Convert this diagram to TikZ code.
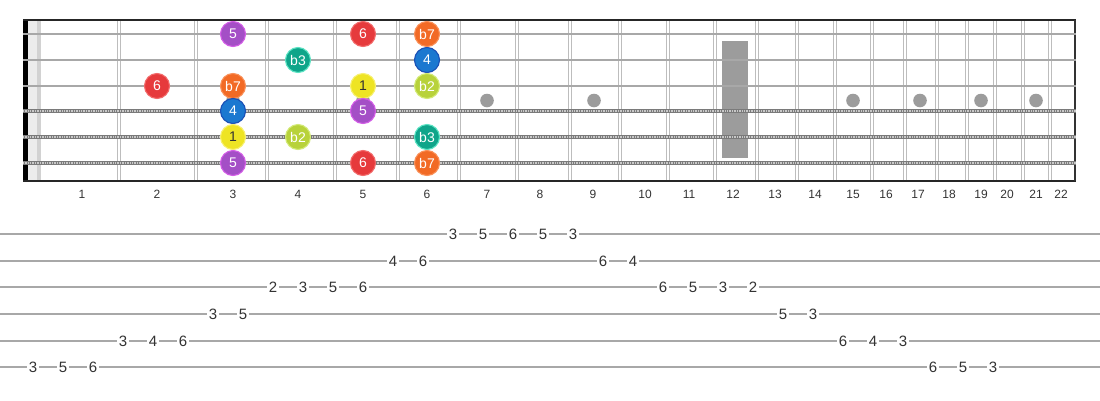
\documentclass[tikz,border=0pt]{standalone}
\usepackage{fontspec}
\setmainfont{Liberation Sans}
\definecolor{cFive}{HTML}{A44FC6}
\definecolor{cFiveB}{HTML}{D35CE6}
\definecolor{cSix}{HTML}{E63A3C}
\definecolor{cSixB}{HTML}{F26A6A}
\definecolor{cSev}{HTML}{F26A25}
\definecolor{cSevB}{HTML}{F99058}
\definecolor{cThr}{HTML}{0FA58A}
\definecolor{cThrB}{HTML}{5BE3C3}
\definecolor{cFour}{HTML}{1B78D0}
\definecolor{cFourB}{HTML}{1A4FB5}
\definecolor{cOne}{HTML}{EEE424}
\definecolor{cOneB}{HTML}{F7F070}
\definecolor{cTwo}{HTML}{B8D23A}
\definecolor{cTwoB}{HTML}{D3EA76}
\definecolor{fretc}{HTML}{BDBDBD}
\definecolor{strc}{HTML}{A8A8A8}
\definecolor{dotc}{HTML}{9C9C9C}
\definecolor{txtc}{HTML}{333333}
\definecolor{woundc}{HTML}{7A7A7A}
\definecolor{woundt}{HTML}{C8C8C8}
\tikzset{
  note/.style 2 args={circle, minimum size=25pt, inner sep=0pt, fill=#1, draw=#2, line width=1.1pt, text=white, font=\fontsize{14}{14}\selectfont},
  fretnum/.style={inner sep=0pt, text=txtc, font=\fontsize{12}{12}\selectfont},
  tabnum/.style={inner sep=2pt, fill=white, text=txtc, font=\fontsize{15}{15}\selectfont},
  fretline/.style={fretc, line width=1.4pt},
  plainstr/.style={strc, line width=2.4pt},
  woundstr/.style={woundc, line width=3.6pt},
  woundtex/.style={woundt, line width=1.5pt, dash pattern=on 0.8pt off 0.9pt},
  tabline/.style={strc, line width=1.6pt},
}
\begin{document}
\begin{tikzpicture}[x=1pt,y=-1pt]
\useasboundingbox (0,0) rectangle (1100,400);
% nut region
\fill[gray!15] (28,20) rectangle (41,180);
\fill[gray!35] (37,20) rectangle (41,180);
% frets
\foreach \x in {119,196,267,335,398,459,517,570,620,668,715,757,797,835,872,905,937,967,995,1023,1050}{
  \draw[fretline] (\x-1.7,20) -- (\x-1.7,180);
  \draw[fretline] (\x+1.7,20) -- (\x+1.7,180);
}
% markers
\foreach \x in {233,363,487,594,853,920,981,1036}{
  \fill[dotc] (\x,100.5) circle (6.8);
}
\fill[dotc] (722,41) rectangle (748,158);
% nut bar and borders
\fill[black] (23,19) rectangle (28,181);
\draw[black!85, line width=2pt] (23,20) -- (1076,20);
\draw[black!85, line width=2pt] (23,180.5) -- (1076,180.5);
\draw[black!80, line width=2pt] (1075,20) -- (1075,181);
% strings
\foreach \y in {34,60,86}{
  \draw[plainstr] (23,\y) -- (1076,\y);
}
\foreach \y in {111,137,163}{
  \draw[woundstr] (23,\y) -- (1076,\y);
  \draw[woundtex] (23,\y) -- (1076,\y);
}
% notes
\node[note={cFive}{cFiveB}] (s1f3) at (233,34) {5};
\node[note={cSix}{cSixB}] (s1f5) at (363,34) {6};
\node[note={cSev}{cSevB}] (s1f6) at (427,34) {b7};
\node[note={cThr}{cThrB}] (s2f4) at (298,60) {b3};
\node[note={cFour}{cFourB}] (s2f6) at (427,60) {4};
\node[note={cSix}{cSixB}] (s3f2) at (157,86) {6};
\node[note={cSev}{cSevB}] (s3f3) at (233,86) {b7};
\node[note={cOne}{cOneB}, text=txtc] (s3f5) at (363,86) {1};
\node[note={cTwo}{cTwoB}] (s3f6) at (427,86) {b2};
\node[note={cFour}{cFourB}] (s4f3) at (233,111) {4};
\node[note={cFive}{cFiveB}] (s4f5) at (363,111) {5};
\node[note={cOne}{cOneB}, text=txtc] (s5f3) at (233,137) {1};
\node[note={cTwo}{cTwoB}] (s5f4) at (298,137) {b2};
\node[note={cThr}{cThrB}] (s5f6) at (427,137) {b3};
\node[note={cFive}{cFiveB}] (s6f3) at (233,163) {5};
\node[note={cSix}{cSixB}] (s6f5) at (363,163) {6};
\node[note={cSev}{cSevB}] (s6f6) at (427,163) {b7};
% fret numbers
\foreach \n/\x in {1/82,2/157,3/233,4/298,5/363,6/427,7/487,8/540,9/593,10/645,11/689,12/733,13/775,14/815,15/853,16/886,17/918,18/949,19/981,20/1007,21/1036,22/1061}{
  \node[fretnum] (fn\n) at (\x,194) {\n};
}
% tab lines
\foreach \y in {234,261,287,314,341,367}{
  \draw[tabline] (0,\y) -- (1100,\y);
}
% tab numbers
\foreach \i/\x/\y/\d in {
  1/33/367/3, 2/63/367/5, 3/93/367/6,
  4/123/341/3, 5/153/341/4, 6/183/341/6,
  7/213/314/3, 8/243/314/5,
  9/273/287/2, 10/303/287/3, 11/333/287/5, 12/363/287/6,
  13/393/261/4, 14/423/261/6,
  15/453/234/3, 16/483/234/5, 17/513/234/6, 18/543/234/5, 19/573/234/3,
  20/603/261/6, 21/633/261/4,
  22/663/287/6, 23/693/287/5, 24/723/287/3, 25/753/287/2,
  26/783/314/5, 27/813/314/3,
  28/843/341/6, 29/873/341/4, 30/903/341/3,
  31/933/367/6, 32/963/367/5, 33/993/367/3}{
  \node[tabnum] (t\i) at (\x,\y) {\d};
}
\end{tikzpicture}
\end{document}
